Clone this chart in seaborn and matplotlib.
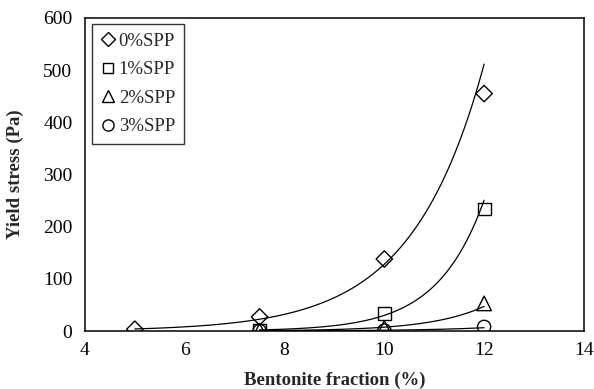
import numpy as np
import pandas as pd
import seaborn as sns
import matplotlib
matplotlib.use("Agg")
import matplotlib.pyplot as plt

# Measured yield stress of bentonite suspensions with sodium polyphosphate (SPP)
series_labels = ["0%SPP", "1%SPP", "2%SPP", "3%SPP"]
bentonite_0 = [5, 7.5, 10, 12]
stress_0 = [3.5, 27, 138, 455]
bentonite_1 = [7.5, 10, 12]
stress_1 = [2, 34, 234]
bentonite_2 = [7.5, 10, 12]
stress_2 = [0.8, 6, 53]
bentonite_3 = [7.5, 10, 12]
stress_3 = [0.3, 1, 8]

x_ticks = [4, 6, 8, 10, 12, 14]
y_ticks = [0, 100, 200, 300, 400, 500, 600]

sns.set_theme(style="white")
plt.rcParams["font.family"] = ["Liberation Serif", "DejaVu Serif"]

frames = []
for lab, xs, ys in zip(series_labels,
                       [bentonite_0, bentonite_1, bentonite_2, bentonite_3],
                       [stress_0, stress_1, stress_2, stress_3]):
    frames.append(pd.DataFrame({"bentonite": xs, "stress": ys, "series": lab}))
df = pd.concat(frames, ignore_index=True)

fig = plt.figure(figsize=(5.94, 3.89), dpi=100)
ax = fig.add_axes([0.143, 0.149, 0.84, 0.805])

markers = {"0%SPP": "D", "1%SPP": "s", "2%SPP": "^", "3%SPP": "o"}
sizes = {"0%SPP": 70, "1%SPP": 85, "2%SPP": 110, "3%SPP": 90}

# exponential trend line for each series (least squares on log scale)
for lab in series_labels:
    sub = df[df["series"] == lab]
    b, a = np.polyfit(sub["bentonite"], np.log(sub["stress"]), 1)
    xf = np.linspace(sub["bentonite"].min(), sub["bentonite"].max(), 200)
    fit = pd.DataFrame({"bentonite": xf, "stress": np.exp(a + b * xf)})
    sns.lineplot(data=fit, x="bentonite", y="stress", ax=ax, color="black",
                 linewidth=0.9, legend=False)

handles = []
for lab in series_labels:
    sub = df[df["series"] == lab]
    sns.scatterplot(data=sub, x="bentonite", y="stress", ax=ax,
                    marker=markers[lab], s=sizes[lab], facecolor="none",
                    edgecolor="black", linewidth=1.0, legend=False, zorder=3)
    handles.append(plt.Line2D([], [], linestyle="none", marker=markers[lab],
                              markersize=np.sqrt(sizes[lab]) * 0.85,
                              markerfacecolor="none", markeredgecolor="black",
                              markeredgewidth=1.0, label=lab))

ax.set_xlim(4, 14)
ax.set_ylim(0, 600)
ax.set_xticks(x_ticks)
ax.set_yticks(y_ticks)
ax.tick_params(axis="x", direction="in", length=5, width=1, labelsize=14,
               pad=8, colors="black")
ax.tick_params(axis="y", direction="out", length=5, width=1, labelsize=14,
               pad=4, colors="black")
for sp in ax.spines.values():
    sp.set_visible(True)
    sp.set_color("black")
    sp.set_linewidth(1.1)

ax.set_xlabel("Bentonite fraction (%)", fontsize=13.5, fontweight="bold",
              labelpad=9)
ax.set_ylabel("Yield stress (Pa)", fontsize=13.5, fontweight="bold",
              labelpad=14)

leg = ax.legend(handles=handles, loc="upper left", fontsize=13.5,
                frameon=True, fancybox=False, handletextpad=0.1,
                handlelength=0.9, borderpad=0.45, labelspacing=0.6,
                borderaxespad=0.35)
leg.get_frame().set_edgecolor("black")
leg.get_frame().set_linewidth(1.0)

fig.savefig("out.png", dpi=100)
